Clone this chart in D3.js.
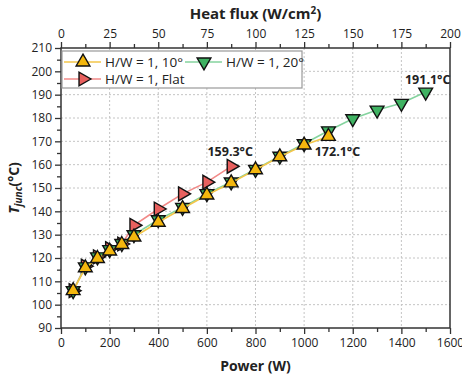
<!DOCTYPE html>
<html>
<head>
<meta charset="utf-8">
<script src="https://cdn.jsdelivr.net/npm/d3@7"></script>
<style>
  body { margin: 0; background: #fff; }
  text { font-family: "Open Sans", "DejaVu Sans", sans-serif; fill: #222; }
</style>
</head>
<body>
<div id="chart"></div>
<script>
// data
const powerFlat = [50, 100, 150, 200, 250, 300, 400, 500, 600, 700];
const tFlat = [106, 116.5, 120.5, 124, 126, 134, 141, 147.5, 152.5, 159.3];

const power10 = [50, 100, 150, 200, 250, 300, 400, 500, 600, 700, 800, 900, 1000, 1100];
const t10 = [106, 115.8, 119.8, 123, 125.8, 129, 135.3, 141.2, 147, 152.2, 157.8, 163.4, 168.4, 172.1];

const power20 = [50, 100, 150, 200, 250, 300, 400, 500, 600, 700, 800, 900, 1000, 1100, 1200, 1300, 1400, 1500];
const t20 = [106, 116.2, 120.5, 123.6, 126.2, 130, 136.4, 141.7, 147.6, 152.6, 158, 163.6, 169, 174.5, 179.7, 183.4, 186.3, 191.1];

const xTicks = [0, 200, 400, 600, 800, 1000, 1200, 1400, 1600];
const topTicks = [0, 25, 50, 75, 100, 125, 150, 175, 200];
const yTicks = [90, 100, 110, 120, 130, 140, 150, 160, 170, 180, 190, 200, 210];

const series = [
  { name: "H/W = 1, Flat", x: powerFlat, y: tFlat, fill: "#e8605e", line: "#f28a88", rot: 90 },
  { name: "H/W = 1, 20°", x: power20, y: t20, fill: "#3fb262", line: "#84d39e", rot: 180 },
  { name: "H/W = 1, 10°", x: power10, y: t10, fill: "#f4b70e", line: "#f3c64a", rot: 0 }
];

const notes = [
  { text: "159.3°C", x: 700, y: 159.3, dx: -1, dy: -10 },
  { text: "172.1°C", x: 1100, y: 172.1, dx: 9, dy: 20 },
  { text: "191.1°C", x: 1500, y: 191.1, dx: 2, dy: -8 }
];

const width = 462, height = 379;
const margin = { top: 48, right: 12, bottom: 51, left: 61 };
const w = width - margin.left - margin.right;
const h = height - margin.top - margin.bottom;

const svg = d3.select("#chart").append("svg").attr("width", width).attr("height", height);
const g = svg.append("g").attr("transform", "translate(" + margin.left + "," + margin.top + ")");

const x = d3.scaleLinear().domain([0, 1600]).range([0, w]);
const xTop = d3.scaleLinear().domain([0, 200]).range([0, w]);
const y = d3.scaleLinear().domain([90, 210]).range([h, 0]);

// grid
g.append("g").selectAll("line").data(xTicks.slice(1, -1)).enter().append("line")
  .attr("x1", (d) => x(d)).attr("x2", (d) => x(d)).attr("y1", 0).attr("y2", h)
  .attr("stroke", "#c4c4c4").attr("stroke-dasharray", "2,2");
g.append("g").selectAll("line").data(yTicks.slice(1, -1)).enter().append("line")
  .attr("y1", (d) => y(d)).attr("y2", (d) => y(d)).attr("x1", 0).attr("x2", w)
  .attr("stroke", "#c4c4c4").attr("stroke-dasharray", "2,2");

// axes
function styleAxis(sel) {
  sel.select(".domain").remove();
  sel.selectAll(".tick line").attr("stroke", "#333").attr("stroke-width", 1.3);
  sel.selectAll(".tick text").style("font-size", "12px").attr("fill", "#222");
}
const xMinor = d3.range(100, 1600, 200);
const yMinor = d3.range(95, 210, 10);
const topMinor = d3.range(12.5, 200, 25);

g.append("g").attr("transform", "translate(0," + h + ")")
  .call(d3.axisBottom(x).tickValues(xMinor).tickSize(4).tickFormat(""))
  .call(styleAxis);
g.append("g").attr("transform", "translate(0," + h + ")")
  .call(d3.axisBottom(x).tickValues(xTicks).tickSize(6).tickPadding(4).tickFormat(d3.format("d")))
  .call(styleAxis);
g.append("g")
  .call(d3.axisTop(xTop).tickValues(topMinor).tickSize(4).tickFormat(""))
  .call(styleAxis);
g.append("g")
  .call(d3.axisTop(xTop).tickValues(topTicks).tickSize(6).tickPadding(4).tickFormat(d3.format("d")))
  .call(styleAxis);
g.append("g")
  .call(d3.axisLeft(y).tickValues(yMinor).tickSize(4).tickFormat(""))
  .call(styleAxis);
g.append("g")
  .call(d3.axisLeft(y).tickValues(yTicks).tickSize(6).tickPadding(3).tickFormat(d3.format("d")))
  .call(styleAxis);

// frame
g.append("rect").attr("width", w).attr("height", h)
  .attr("fill", "none").attr("stroke", "#333").attr("stroke-width", 1.5);

// series
const line = d3.line().x((d) => x(d[0])).y((d) => y(d[1]));
const tri = d3.symbol().type(d3.symbolTriangle).size(82);
series.forEach((s) => {
  const pts = s.x.map((v, i) => [v, s.y[i]]);
  g.append("path").datum(pts).attr("d", line)
    .attr("fill", "none").attr("stroke", s.line).attr("stroke-width", 1.6);
  g.append("g").selectAll("path").data(pts).enter().append("path")
    .attr("d", tri)
    .attr("transform", (d) => "translate(" + x(d[0]) + "," + y(d[1]) + ") rotate(" + s.rot + ")")
    .attr("fill", s.fill).attr("stroke", "#111").attr("stroke-width", 1.4)
    .attr("stroke-linejoin", "miter");
});

// annotations
g.append("g").selectAll("text").data(notes).enter().append("text")
  .attr("x", (d) => x(d.x) + d.dx).attr("y", (d) => y(d.y) + d.dy)
  .attr("text-anchor", "middle").style("font-size", "12.5px").style("font-weight", "bold")
  .text((d) => d.text);

// legend
const lg = g.append("g").attr("transform", "translate(1,3)");
lg.append("rect").attr("width", 240).attr("height", 37)
  .attr("fill", "#fff").attr("stroke", "#999").attr("stroke-width", 1.2);
const legendItems = [
  { s: series[2], lx: 2, ly: 11 },
  { s: series[1], lx: 123, ly: 11 },
  { s: series[0], lx: 2, ly: 28 }
];
legendItems.forEach((it) => {
  const gg = lg.append("g").attr("transform", "translate(" + it.lx + "," + it.ly + ")");
  gg.append("line").attr("x1", 0).attr("x2", 37).attr("stroke", it.s.line).attr("stroke-width", 1.6);
  gg.append("path").attr("d", tri).attr("transform", "translate(19,0) rotate(" + it.s.rot + ")")
    .attr("fill", it.s.fill).attr("stroke", "#111").attr("stroke-width", 1.4);
  gg.append("text").attr("x", 41).attr("y", 0).attr("dy", "0.35em")
    .style("font-size", "13.5px").text(it.s.name);
});

// axis titles
svg.append("text").attr("x", margin.left + w / 2).attr("y", 19).attr("text-anchor", "middle")
  .style("font-size", "15px").style("font-weight", "bold")
  .html('Heat flux (W/cm<tspan dy="-5" style="font-size:10px">2</tspan><tspan dy="5">)</tspan>');
svg.append("text").attr("x", margin.left + w / 2).attr("y", 371).attr("text-anchor", "middle")
  .style("font-size", "14px").style("font-weight", "bold").text("Power (W)");
svg.append("text").attr("transform", "translate(19," + (margin.top + h / 2) + ") rotate(-90)")
  .attr("text-anchor", "middle").style("font-size", "14px").style("font-weight", "bold")
  .html('<tspan font-style="italic">T</tspan><tspan dy="3" style="font-size:10px;font-style:italic">junc</tspan><tspan dy="-3">(°C)</tspan>');
</script>
</body>
</html>
